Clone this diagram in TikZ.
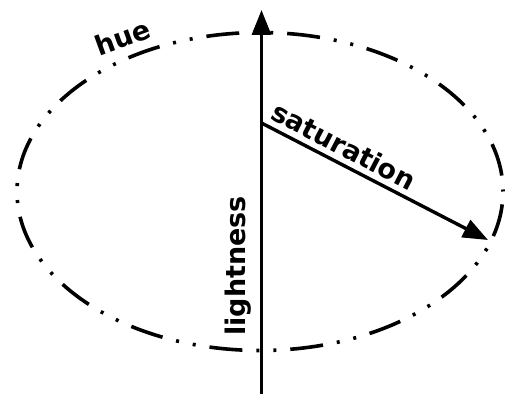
\documentclass[tikz,border=0pt]{standalone}
\usepackage{fontspec}
\setmainfont{DejaVu Sans}
\usetikzlibrary{arrows.meta}
\begin{document}
\begin{tikzpicture}[x=1pt,y=1pt,
  lbl/.style={font=\bfseries\fontsize{27}{27}\selectfont, inner sep=0pt},
  huepath/.style={line width=3.6pt, dash pattern=on 33pt off 14pt on 3pt off 14pt on 3pt off 14pt, dash phase=65pt},
  axis/.style={line width=3.4pt, -{Triangle[length=25pt,width=19pt]}}]
\useasboundingbox (0,0) rectangle (509,394);
\draw[huepath] (260,202.5) ellipse [x radius=243, y radius=159];
\coordinate (bot) at (261.5,0);
\coordinate (top) at (261.5,384);
\coordinate (c) at (261.5,271);
\coordinate (rim) at (488,154);
\draw[axis] (bot) -- (top);
\draw[axis] (c) -- (rim);
\node[lbl, rotate=20] (hue) at (123,357) {hue};
\node[lbl, rotate=-27.4] (sat) at (344,248) {saturation};
\node[lbl, rotate=90] (light) at (238,128) {lightness};
\end{tikzpicture}
\end{document}
